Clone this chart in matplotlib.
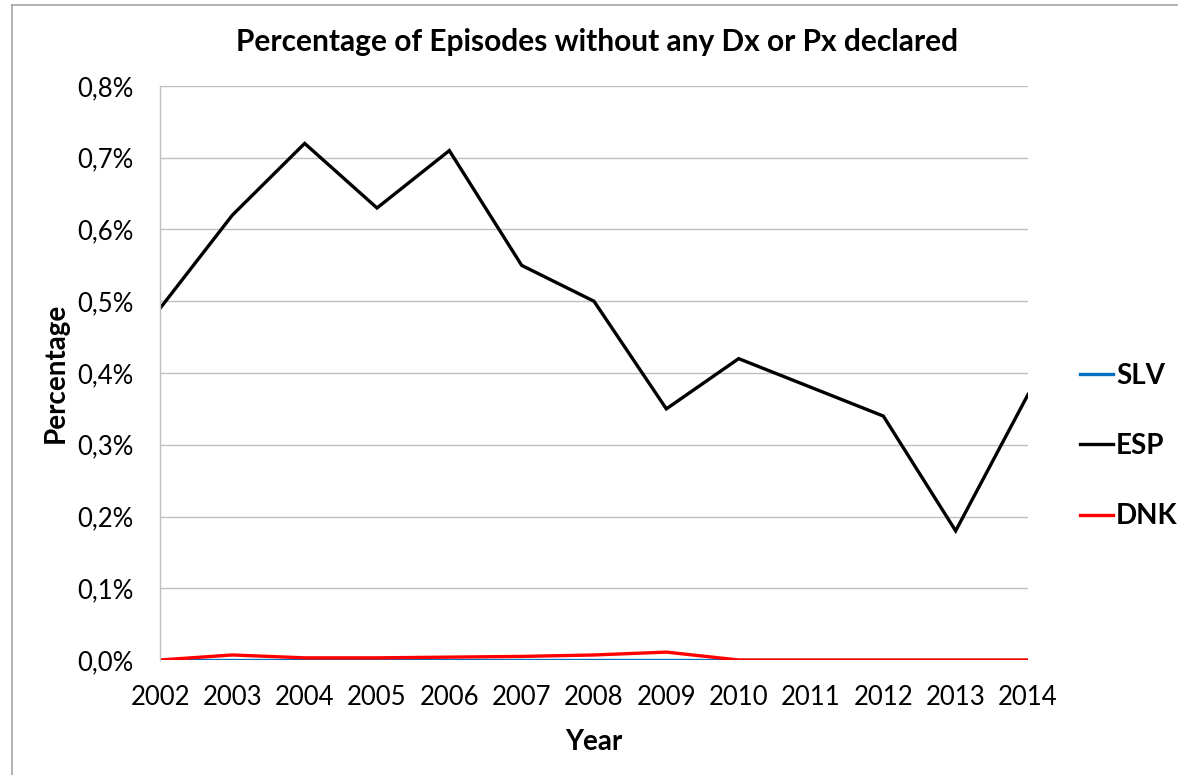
import matplotlib
matplotlib.use("Agg")
import matplotlib.pyplot as plt
from matplotlib.ticker import FuncFormatter, MultipleLocator
from matplotlib.lines import Line2D

years = [2002, 2003, 2004, 2005, 2006, 2007, 2008, 2009, 2010, 2011, 2012, 2013, 2014]
slv = [0.0, 0.0, 0.0, 0.0, 0.0, 0.0, 0.0, 0.0, 0.0, 0.0, 0.0, 0.0, 0.0]
esp = [0.49, 0.62, 0.72, 0.63, 0.71, 0.55, 0.50, 0.35, 0.42, 0.38, 0.34, 0.18, 0.37]
dnk = [0.0, 0.007, 0.003, 0.003, 0.004, 0.005, 0.007, 0.011, 0.0, 0.0, 0.0, 0.0, 0.0]
series_names = ["SLV", "ESP", "DNK"]
series_colors = ["#0070C0", "#000000", "#FF0000"]

plt.rcParams["font.family"] = ["Lato", "DejaVu Sans"]

W, H = 1178, 775
fig = plt.figure(figsize=(W / 100, H / 100), dpi=100)
fig.patch.set_facecolor("white")

# outer chart border (left and top edges)
fig.add_artist(Line2D([12 / W, 12 / W], [0, 1 - 5 / H], transform=fig.transFigure,
                      color="#A6A6A6", linewidth=1.2))
fig.add_artist(Line2D([12 / W, 1], [1 - 5 / H, 1 - 5 / H], transform=fig.transFigure,
                      color="#A6A6A6", linewidth=1.2))

ax = fig.add_axes([160 / W, 1 - 660 / H, (1028 - 160) / W, (660 - 86) / H])

for vals, name, col in zip([slv, esp, dnk], series_names, series_colors):
    ax.plot(years, vals, color=col, linewidth=2.4, label=name, solid_joinstyle="miter")

ax.set_xlim(years[0], years[-1])
ax.set_ylim(0, 0.8)
ax.yaxis.set_major_locator(MultipleLocator(0.1))
ax.yaxis.set_major_formatter(FuncFormatter(lambda v, p: f"{v:.1f}%".replace(".", ",")))
ax.set_xticks(years)
ax.set_xticklabels([str(y) for y in years])

ax.grid(axis="y", color="#BFBFBF", linewidth=1.0)
ax.set_axisbelow(True)
for s in ["top", "right", "bottom"]:
    ax.spines[s].set_visible(False)
ax.spines["left"].set_color("#BFBFBF")
ax.spines["left"].set_linewidth(1.0)
ax.tick_params(axis="both", length=0, labelsize=18.5, colors="#000000")
ax.tick_params(axis="x", pad=18)
ax.tick_params(axis="y", pad=19)

ax.set_xlabel("Year", fontsize=20, fontweight="bold", labelpad=14)
ax.set_ylabel("Percentage", fontsize=20, fontweight="bold", labelpad=6)
fig.text(597 / W, 1 - 42 / H, "Percentage of Episodes without any Dx or Px declared",
         ha="center", va="center", fontsize=21.5, fontweight="bold")

leg = ax.legend(loc="center left", bbox_to_anchor=(1069 / W, 1 - 446 / H),
                bbox_transform=fig.transFigure, frameon=False, fontsize=20,
                handlelength=1.2, handletextpad=0.1, labelspacing=1.6,
                borderaxespad=0)
for t in leg.get_texts():
    t.set_fontweight("bold")

fig.savefig("out.png", dpi=100)
